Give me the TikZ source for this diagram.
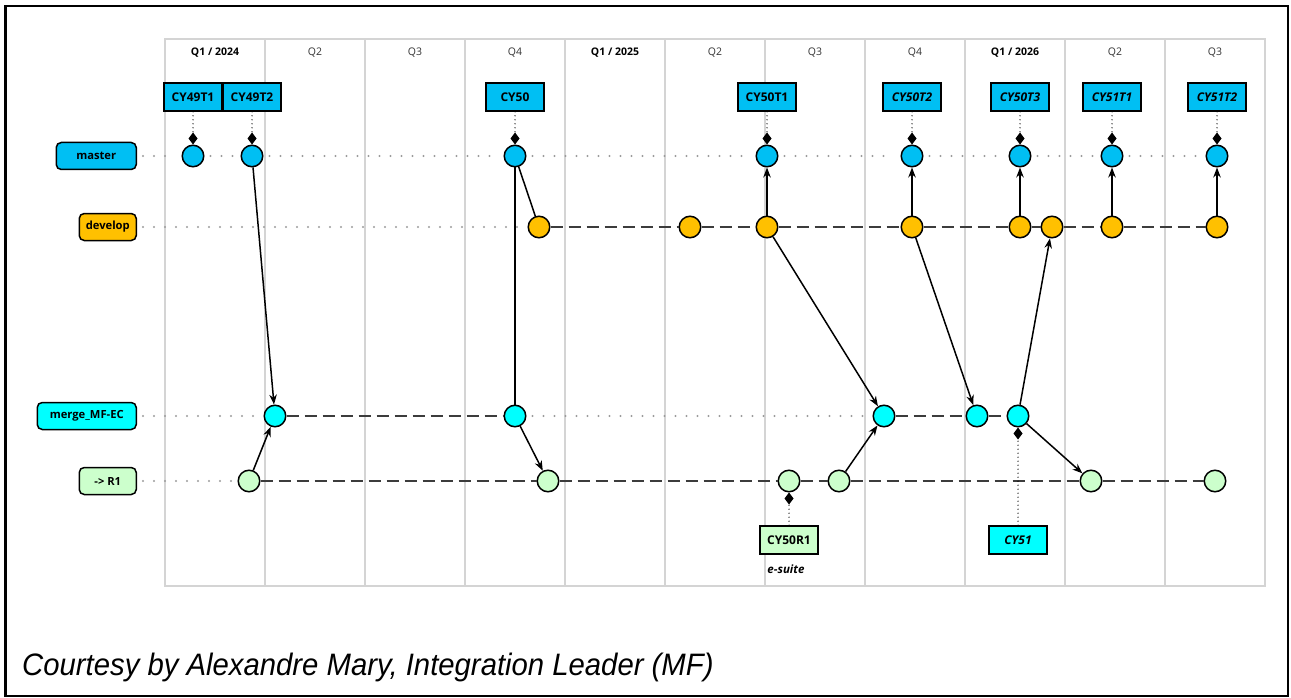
\documentclass[tikz,border=0pt]{standalone}
\usepackage{fontspec}
\setmainfont{Open Sans}
\newfontfamily\capfont{Liberation Sans}
\usetikzlibrary{arrows.meta}

\definecolor{cmaster}{RGB}{0,191,243}
\definecolor{cdevelop}{RGB}{255,192,0}
\definecolor{cmerge}{RGB}{0,255,255}
\definecolor{crelease}{RGB}{204,255,204}
\definecolor{gridgray}{RGB}{212,212,212}
\definecolor{dotgray}{RGB}{155,155,155}
\definecolor{dashgray}{RGB}{60,60,60}

\tikzset{
  commit/.style={circle, draw=black, line width=1.5pt, minimum size=21.5pt, inner sep=0pt},
  mc/.style={commit, fill=cmaster},
  dc/.style={commit, fill=cdevelop},
  gc/.style={commit, fill=cmerge},
  rc/.style={commit, fill=crelease},
  tagbox/.style={draw=black, line width=1.7pt, minimum width=58pt, minimum height=28pt,
    inner sep=0pt, font=\fontsize{12}{14}\selectfont\bfseries},
  branchbox/.style={draw=black, rounded corners=5pt, line width=1.5pt, minimum height=27pt,
    inner sep=0pt, anchor=east, font=\fontsize{11.2}{13}\selectfont\bfseries},
  quarter/.style={font=\fontsize{10.5}{12}\selectfont, text=black!80},
  yearq/.style={font=\fontsize{10.5}{12}\selectfont\bfseries},
  rowdot/.style={draw=dotgray, line width=2.3pt, line cap=round, dash pattern=on 0pt off 11pt,
    shorten <=6pt, shorten >=6pt},
  rowdash/.style={draw=dashgray, line width=2.3pt, dash pattern=on 12pt off 6pt},
  flow/.style={draw=black, line width=1.5pt, -{Stealth[length=10pt,width=7.5pt]}},
  link/.style={draw=black, line width=1.5pt},
  tagline/.style={draw=black, line width=1.3pt, line cap=round, dash pattern=on 0pt off 4pt,
    -{Diamond[length=12pt,width=9pt,line cap=butt]}},
}

\begin{document}
\begin{tikzpicture}[x=1pt,y=-1pt]
\useasboundingbox (0,0) rectangle (1291,698);

% outer frame
\draw[line width=2.6pt] (5.5,6) rectangle (1288,696);

% quarter grid
\draw[gridgray, line width=1.2pt] (165,39) rectangle (1265,586);
\foreach \k in {1,...,10}
  \draw[gridgray, line width=1.2pt] (165+100*\k,39) -- (165+100*\k,586);

% quarter headings
\node[yearq]   (q1) at (215,53) {Q1 / 2024};
\node[quarter] (q2) at (315,53) {Q2};
\node[quarter] (q3) at (415,53) {Q3};
\node[quarter] (q4) at (515,53) {Q4};
\node[yearq]   (q5) at (615,53) {Q1 / 2025};
\node[quarter] (q6) at (715,53) {Q2};
\node[quarter] (q7) at (815,53) {Q3};
\node[quarter] (q8) at (915,53) {Q4};
\node[yearq]   (q9) at (1015,53) {Q1 / 2026};
\node[quarter] (q10) at (1115,53) {Q2};
\node[quarter] (q11) at (1215,53) {Q3};

% branch labels
\node[branchbox, fill=cmaster,   minimum width=80pt] (lmaster)  at (137,156) {master};
\node[branchbox, fill=cdevelop,  minimum width=57pt] (ldevelop) at (137,227) {develop};
\node[branchbox, fill=cmerge,    minimum width=99pt] (lmerge)   at (137,416) {merge\_MF-EC};
\node[branchbox, fill=crelease,  minimum width=57pt] (lr1)      at (137,481) {-> R1};

% commits
\node[mc] (m1) at (193,156) {};
\node[mc] (m2) at (252,156) {};
\node[mc] (m3) at (515,156) {};
\node[mc] (m4) at (767,156) {};
\node[mc] (m5) at (912,156) {};
\node[mc] (m6) at (1020,156) {};
\node[mc] (m7) at (1112,156) {};
\node[mc] (m8) at (1217,156) {};

\node[dc] (d1) at (539,227) {};
\node[dc] (d2) at (690,227) {};
\node[dc] (d3) at (767,227) {};
\node[dc] (d4) at (912,227) {};
\node[dc] (d5) at (1020,227) {};
\node[dc] (d6) at (1052,227) {};
\node[dc] (d7) at (1112,227) {};
\node[dc] (d8) at (1217,227) {};

\node[gc] (g1) at (275,416) {};
\node[gc] (g2) at (515,416) {};
\node[gc] (g3) at (884,416) {};
\node[gc] (g4) at (977,416) {};
\node[gc] (g5) at (1018,416) {};

\node[rc] (r1) at (249,481) {};
\node[rc] (r2) at (548,481) {};
\node[rc] (r3) at (789,481) {};
\node[rc] (r4) at (839,481) {};
\node[rc] (r5) at (1091,481) {};
\node[rc] (r6) at (1215,481) {};

% branch lines
\draw[rowdot] (lmaster.east) -- (m1);
\foreach \a/\b in {m1/m2,m2/m3,m3/m4,m4/m5,m5/m6,m6/m7,m7/m8}
  \draw[rowdot] (\a) -- (\b);

\draw[rowdot] (ldevelop.east) -- (d1);
\foreach \a/\b in {d1/d2,d2/d3,d3/d4,d4/d5,d5/d6,d6/d7,d7/d8}
  \draw[rowdash] (\a) -- (\b);

\draw[rowdot] (lmerge.east) -- (g1);
\draw[rowdash] (g1) -- (g2);
\draw[rowdot] (g2) -- (g3);
\draw[rowdash] (g3) -- (g4);
\draw[rowdash] (g4) -- (g5);

\draw[rowdot] (lr1.east) -- (r1);
\foreach \a/\b in {r1/r2,r2/r3,r3/r4,r4/r5,r5/r6}
  \draw[rowdash] (\a) -- (\b);

% merges between branches
\draw[flow] (m2) -- (g1);
\draw[flow] (r1) -- (g1);
\draw[link] (m3) -- (d1);
\draw[link] (m3) -- (g2);
\draw[flow] (g2) -- (r2);
\draw[flow] (d3) -- (m4);
\draw[flow] (d3) -- (g3);
\draw[flow] (r4) -- (g3);
\draw[flow] (d4) -- (m5);
\draw[flow] (d4) -- (g4);
\draw[flow] (g5) -- (d6);
\draw[flow] (g5) -- (r5);
\draw[flow] (d5) -- (m6);
\draw[flow] (d7) -- (m7);
\draw[flow] (d8) -- (m8);

% tags
\node[tagbox, fill=cmaster] (t1) at (193,97) {CY49T1};
\node[tagbox, fill=cmaster] (t2) at (252,97) {CY49T2};
\node[tagbox, fill=cmaster] (t3) at (515,97) {CY50};
\node[tagbox, fill=cmaster] (t4) at (767,97) {CY50T1};
\node[tagbox, fill=cmaster] (t5) at (912,97) {\itshape CY50T2};
\node[tagbox, fill=cmaster] (t6) at (1020,97) {\itshape CY50T3};
\node[tagbox, fill=cmaster] (t7) at (1112,97) {\itshape CY51T1};
\node[tagbox, fill=cmaster] (t8) at (1217,97) {\itshape CY51T2};
\node[tagbox, fill=crelease] (t9) at (789,540) {CY50R1};
\node[tagbox, fill=cmerge] (t10) at (1018,540) {\itshape CY51};

\foreach \t/\c in {t1/m1,t2/m2,t3/m3,t4/m4,t5/m5,t6/m6,t7/m7,t8/m8,t9/r3,t10/g5}
  \draw[tagline] (\t) -- (\c);

\node[font=\fontsize{11.5}{13}\selectfont\bfseries\itshape] (esuite) at (786,569) {e-suite};

% credit line
\node[anchor=base west, inner sep=0pt, font=\capfont\itshape\fontsize{31}{34}\selectfont]
  (credit) at (22,675) {\scalebox{0.945}[1]{Courtesy by Alexandre Mary, Integration Leader (MF)}};
\end{tikzpicture}
\end{document}
